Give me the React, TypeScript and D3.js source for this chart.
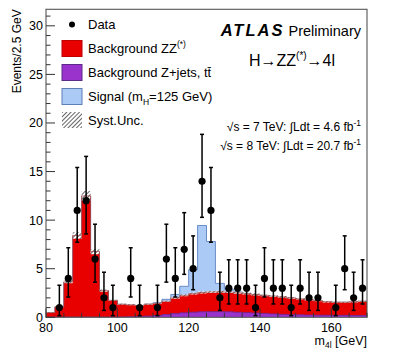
import * as d3 from 'd3'
import { useEffect, useRef } from 'react'

// binning: 2.5 GeV bins from 80 to 170
const BIN_LOW = 80
const BIN_WIDTH = 2.5

// observed events per bin
const DATA_COUNTS = [
  0, 1, 4, 11, 12, 6, 2, 1, 0, 4, 1, 0, 1, 6, 4, 7, 5, 14, 11, 2, 3, 3, 3, 1,
  4, 3, 3, 1, 3, 2, 2, 0, 1, 5, 2, 3,
]

// Background ZZ(*)
const ZZ_BKG = [
  0.46, 1.06, 3.63, 8.4, 12.48, 6.76, 2.73, 1.72, 1.31, 1.23, 1.12, 1.23, 1.27,
  1.37, 1.62, 1.8, 1.92, 1.99, 2.02, 2.04, 2.04, 2.0, 1.97, 1.91, 1.85, 1.83,
  1.8, 1.73, 1.65, 1.57, 1.5, 1.39, 1.35, 1.35, 1.41, 1.47,
]

// Background Z+jets, ttbar
const ZJETS_BKG = [
  0.01, 0.01, 0.01, 0.01, 0.01, 0.01, 0.01, 0.02, 0.03, 0.05, 0.08, 0.12, 0.18,
  0.28, 0.38, 0.46, 0.52, 0.56, 0.58, 0.58, 0.56, 0.52, 0.48, 0.44, 0.4, 0.35,
  0.3, 0.27, 0.25, 0.23, 0.22, 0.21, 0.2, 0.2, 0.19, 0.18,
]

// Signal mH = 125 GeV
const SIGNAL = [
  0, 0, 0, 0, 0, 0, 0, 0, 0, 0, 0, 0, 0.05, 0.2, 0.35, 0.93, 2.46, 6.9, 5.2,
  0.87, 0.3, 0.1, 0.03, 0, 0, 0, 0, 0, 0, 0, 0, 0, 0, 0, 0, 0,
]

// relative systematic uncertainty on the background
const SYST_REL = 0.04

// 68% Poisson (Garwood) intervals indexed by observed count
const POISSON_LO = [0, 0.17, 0.71, 1.37, 2.09, 2.84, 3.62, 4.42, 5.23, 6.06, 6.89, 7.73, 8.58, 9.43, 10.29]
const POISSON_HI = [1.84, 3.3, 4.64, 5.92, 7.16, 8.38, 9.58, 10.77, 11.95, 13.11, 14.27, 15.42, 16.56, 17.7, 18.83]

const X_TICKS = [80, 100, 120, 140, 160]
const Y_TICKS = [0, 5, 10, 15, 20, 25, 30]

const FONT = '"Liberation Sans", Arial, Helvetica, sans-serif'

export default function App() {
  const ref = useRef<HTMLDivElement>(null)

  useEffect(() => {
    const width = 403
    const height = 358
    const left = 46
    const right = 367
    const top = 9.3
    const bottom = 317.3

    const x = d3.scaleLinear().domain([80, 170]).range([left, right])
    const y = d3.scaleLinear().domain([0, 31.7]).range([bottom, top])

    const nb = DATA_COUNTS.length
    const edges = d3.range(nb + 1).map((i) => BIN_LOW + BIN_WIDTH * i)
    const zj = ZJETS_BKG
    const bkg = ZZ_BKG.map((v, i) => v + zj[i])
    const tot = bkg.map((v, i) => v + SIGNAL[i])

    // step area helper: repeat last value for the right edge
    const ext = (arr: number[]) => [...arr, arr[arr.length - 1]]
    const stepArea = (lo: number[], hi: number[]) => {
      const l = ext(lo)
      const h = ext(hi)
      return d3
        .area<number>()
        .curve(d3.curveStepAfter)
        .x((d) => x(edges[d]))
        .y0((d) => y(l[d]))
        .y1((d) => y(h[d]))(d3.range(nb + 1))
    }
    const stepLine = (hi: number[]) => {
      const h = ext(hi)
      return d3
        .line<number>()
        .curve(d3.curveStepAfter)
        .x((d) => x(edges[d]))
        .y((d) => y(h[d]))(d3.range(nb + 1))
    }
    const zeros = new Array(nb).fill(0)

    const svg = d3
      .create('svg')
      .attr('width', width)
      .attr('height', height)
      .attr('viewBox', [0, 0, width, height])
      .attr('style', `position:absolute;left:0;top:0;background:#fff;font-family:${FONT}`)

    const defs = svg.append('defs')
    const pat = defs
      .append('pattern')
      .attr('id', 'hatch')
      .attr('patternUnits', 'userSpaceOnUse')
      .attr('width', 3)
      .attr('height', 3)
      .attr('patternTransform', 'rotate(45)')
    pat.append('rect').attr('width', 3).attr('height', 3).attr('fill', '#fff')
    pat.append('line').attr('x1', 0).attr('y1', 0).attr('x2', 0).attr('y2', 3).attr('stroke', '#222').attr('stroke-width', 1.4)

    defs.append('clipPath').attr('id', 'frame').append('rect')
      .attr('x', left).attr('y', top).attr('width', right - left).attr('height', bottom - top)

    const plot = svg.append('g').attr('clip-path', 'url(#frame)')

    /* stacked histograms */
    plot.append('path').attr('d', stepArea(zeros, tot)).attr('fill', '#abcaf5')
    plot.append('path').attr('d', stepLine(tot)).attr('fill', 'none').attr('stroke', '#6a8cc8').attr('stroke-width', 1)
    plot.append('path').attr('d', stepArea(zeros, bkg)).attr('fill', '#e80000')
    plot.append('path').attr('d', stepArea(zeros, zj)).attr('fill', '#9933cc')
    plot.append('path').attr('d', stepLine(zj)).attr('fill', 'none').attr('stroke', '#6a2a99').attr('stroke-width', 0.8)

    /* syst band */
    plot.append('path')
      .attr('d', stepArea(bkg.map((v) => v * (1 - SYST_REL)), bkg.map((v) => v * (1 + SYST_REL))))
      .attr('fill', 'url(#hatch)')
    plot.append('path').attr('d', stepLine(bkg)).attr('fill', 'none').attr('stroke', '#a04040').attr('stroke-width', 0.7)

    /* frame and axes */
    svg.append('rect')
      .attr('x', left).attr('y', top).attr('width', right - left).attr('height', bottom - top)
      .attr('fill', 'none').attr('stroke', '#555').attr('stroke-width', 1.1)

    const ax = svg.append('g').attr('stroke', '#333').attr('stroke-width', 1)
    d3.range(80, 171, 5).forEach((v) => {
      const major = v % 20 === 0
      ax.append('line').attr('x1', x(v)).attr('x2', x(v)).attr('y1', bottom).attr('y2', bottom - (major ? 9 : 4.5))
    })
    d3.range(0, 32, 1).forEach((v) => {
      const major = v % 5 === 0
      ax.append('line').attr('x1', left).attr('x2', left + (major ? 9 : 4.5)).attr('y1', y(v)).attr('y2', y(v))
    })

    svg.append('g').attr('font-size', 12.5).attr('text-anchor', 'middle')
      .selectAll('text').data(X_TICKS).join('text')
      .attr('x', (d) => x(d)).attr('y', 332).text((d) => d)
    svg.append('g').attr('font-size', 12.5).attr('text-anchor', 'end')
      .selectAll('text').data(Y_TICKS).join('text')
      .attr('x', 43).attr('y', (d) => y(d) + 4.5).text((d) => d)

    // axis titles
    const xt = svg.append('text').attr('x', right).attr('y', 345).attr('text-anchor', 'end').attr('font-size', 12.5)
    xt.append('tspan').text('m')
    xt.append('tspan').attr('font-size', 8.5).attr('dy', 3).text('4l')
    xt.append('tspan').attr('dy', -3).text(' [GeV]')
    svg.append('text')
      .attr('transform', `translate(17,${top}) rotate(-90)`)
      .attr('text-anchor', 'end').attr('dy', '0.35em').attr('font-size', 12)
      .text('Events/2.5 GeV')

    /* data */
    const pts = DATA_COUNTS.map((n, i) => ({ n, c: BIN_LOW + BIN_WIDTH * (i + 0.5) })).filter((d) => d.n > 0)
    const dg = svg.append('g').attr('stroke', '#000').attr('stroke-width', 1.5)
    pts.forEach((d) => {
      const cx = x(d.c)
      const y0 = y(POISSON_LO[d.n])
      const y1 = y(POISSON_HI[d.n])
      dg.append('line').attr('x1', cx).attr('x2', cx).attr('y1', y0).attr('y2', y1)
      dg.append('line').attr('x1', cx - 2).attr('x2', cx + 2).attr('y1', y0).attr('y2', y0)
      dg.append('line').attr('x1', cx - 2).attr('x2', cx + 2).attr('y1', y1).attr('y2', y1)
    })
    svg.append('g').selectAll('circle').data(pts).join('circle')
      .attr('cx', (d) => x(d.c)).attr('cy', (d) => y(d.n)).attr('r', 3.6).attr('fill', '#000')

    /* legend */
    const lg = svg.append('g').attr('font-size', 13)
    const rows = [24.5, 48.5, 72.5, 96.5, 120]
    lg.append('circle').attr('cx', 72).attr('cy', rows[0]).attr('r', 3).attr('fill', '#000')
    const box = (cy: number, fill: string, stroke: string) =>
      lg.append('rect').attr('x', 62).attr('y', cy - 8).attr('width', 20).attr('height', 16)
        .attr('fill', fill).attr('stroke', stroke).attr('stroke-width', 1)
    box(rows[1], '#e80000', '#c00000')
    box(rows[2], '#9933cc', '#5a2a8a')
    box(rows[3], '#abcaf5', '#5c7fb5')
    box(rows[4], 'url(#hatch)', 'none')
    const lt = (i: number) => lg.append('text').attr('x', 88).attr('y', rows[i] + 4.6)
    lt(0).text('Data')
    const t1 = lt(1)
    t1.append('tspan').text('Background ZZ')
    t1.append('tspan').attr('font-size', 8.5).attr('dy', -6).text('(*)')
    lt(2).text('Background Z+jets, tt\u0304')
    const t3 = lt(3)
    t3.append('tspan').text('Signal (m')
    t3.append('tspan').attr('font-size', 8.5).attr('dy', 4).text('H')
    t3.append('tspan').attr('dy', -4).text('=125 GeV)')
    lt(4).text('Syst.Unc.')

    /* labels */
    const at = svg.append('text').attr('x', 361).attr('y', 36).attr('text-anchor', 'end').attr('font-size', 14.5)
    at.append('tspan').attr('font-weight', 'bold').attr('font-style', 'italic')
      .attr('font-size', 16.5).attr('letter-spacing', 2).text('ATLAS')
    at.append('tspan').text(' Preliminary')

    const ht = svg.append('text').attr('x', 292).attr('y', 66).attr('text-anchor', 'middle').attr('font-size', 16)
    ht.append('tspan').text('H\u2192ZZ')
    ht.append('tspan').attr('font-size', 10).attr('dy', -7).text('(*)')
    ht.append('tspan').attr('dy', 7).text('\u21924l')

    const lumi = (yy: number, s: string, l: string) => {
      const t = svg.append('text').attr('x', 361).attr('y', yy).attr('text-anchor', 'end').attr('font-size', 12)
      t.append('tspan').text(`\u221As = ${s} TeV: \u222BLdt = ${l} fb`)
      t.append('tspan').attr('font-size', 8.5).attr('dy', -5).text('-1')
    }
    lumi(131, '7', '4.6')
    lumi(150, '8', '20.7')

    const node = svg.node()
    if (ref.current && node) {
      ref.current.innerHTML = ''
      ref.current.appendChild(node)
    }
  }, [])

  return <div ref={ref} />
}
